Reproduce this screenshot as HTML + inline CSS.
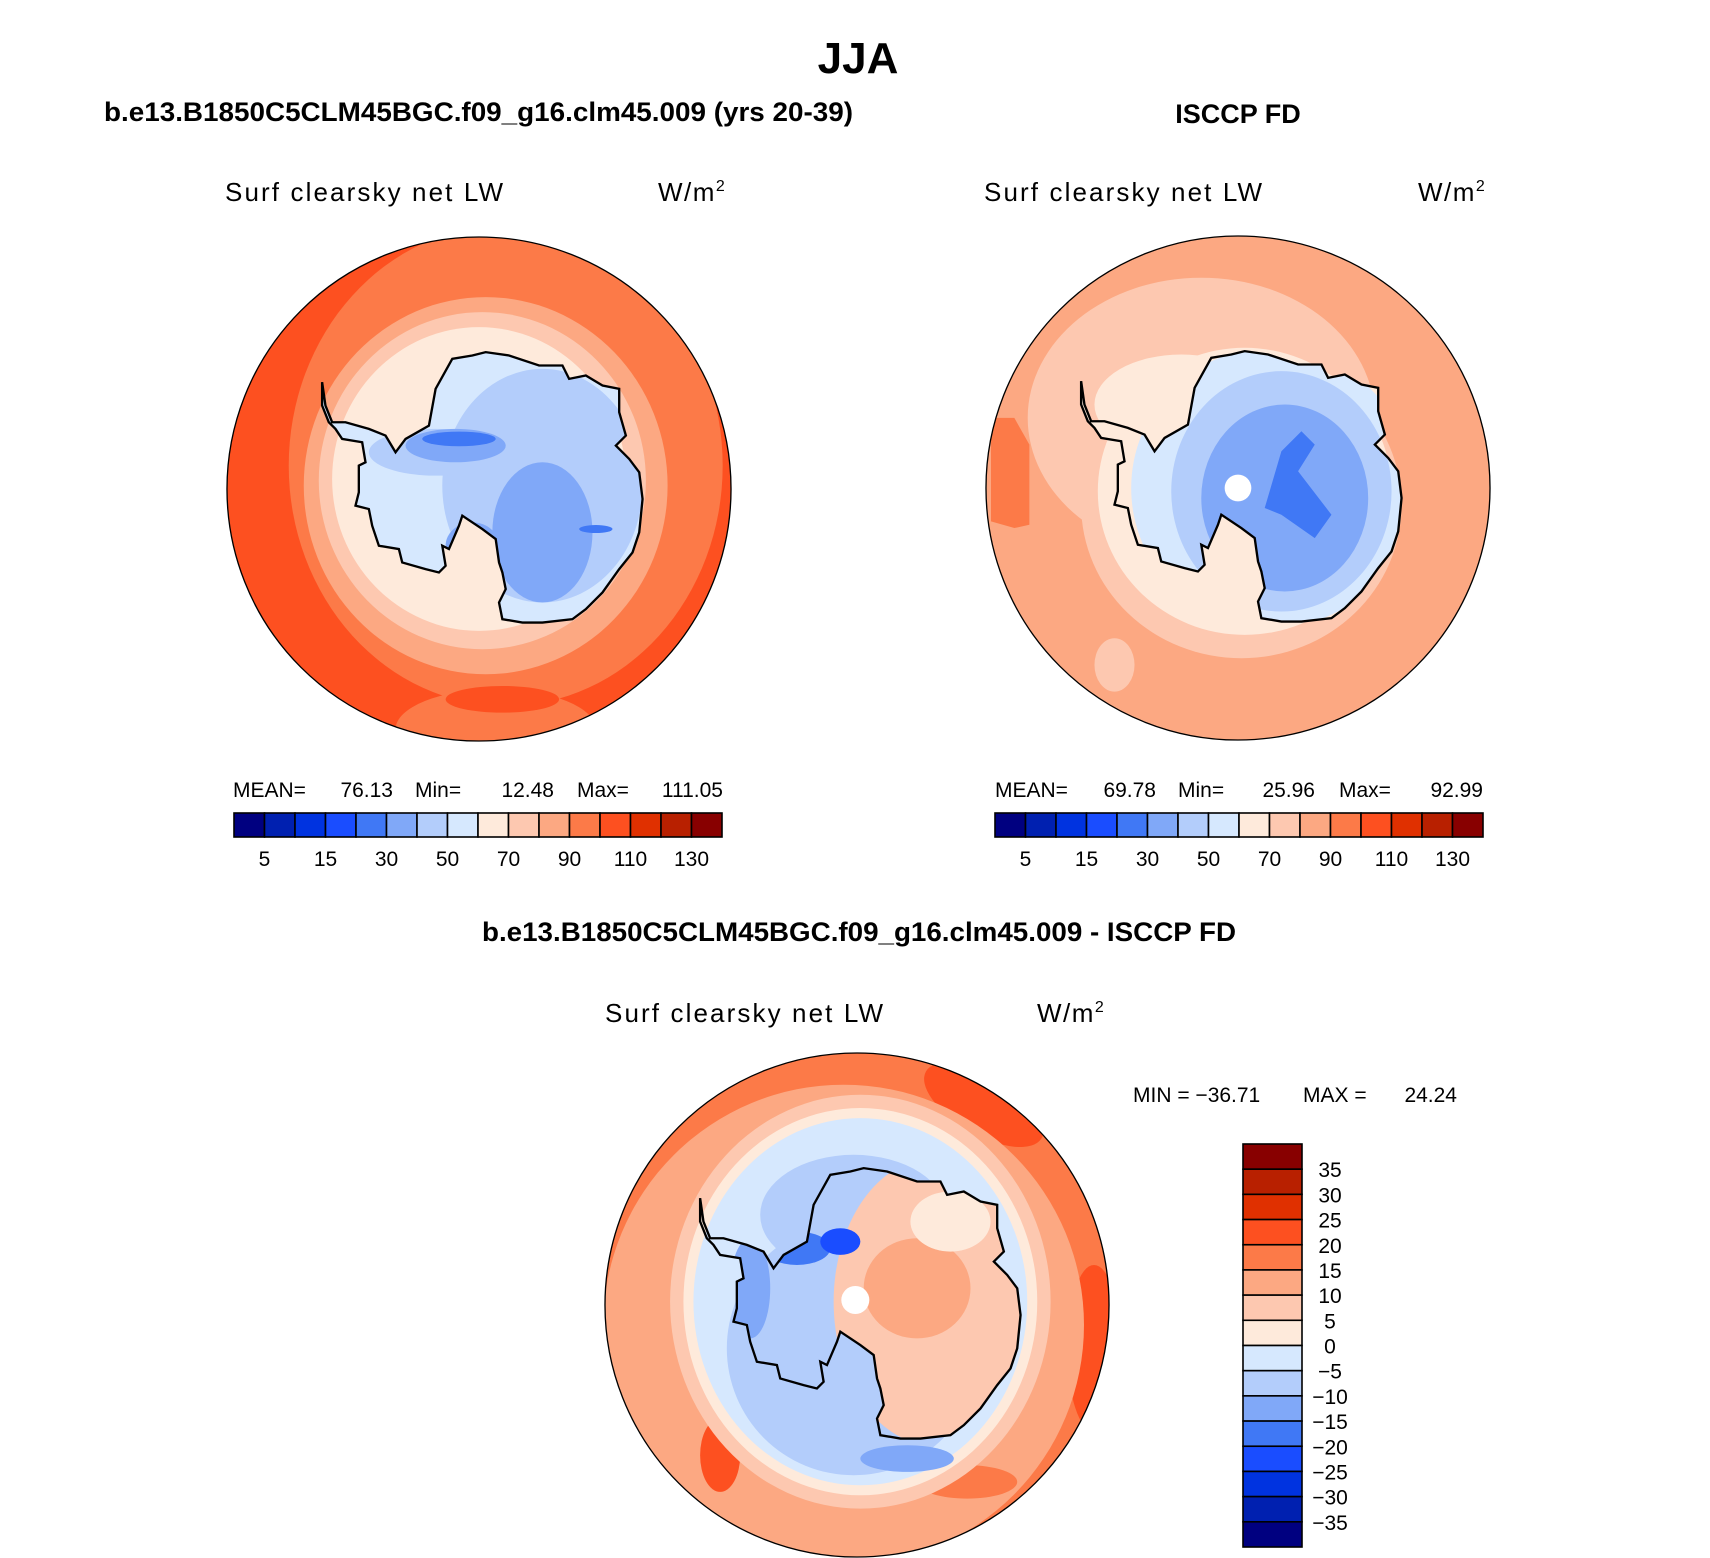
<!DOCTYPE html>
<html><head><meta charset="utf-8"><style>
html,body{margin:0;padding:0;background:#fff;}
svg{display:block;}
.t{font-family:"Liberation Sans",sans-serif;}
.b{font-family:"Liberation Sans",sans-serif;font-weight:bold;}
</style></head><body>
<svg id="fig" width="1710" height="1558" viewBox="0 0 1710 1558" xmlns="http://www.w3.org/2000/svg">
<defs>
<clipPath id="cc"><circle cx="770" cy="770" r="755"/></clipPath>
<clipPath id="ant"><path id="antp" d="M300,450 L310,520 L330,570 L370,570 L440,590 L490,610 L520,660 L550,620 L620,580 L640,470 L690,380 L750,370 L790,360 L860,370 L950,400 L1020,400 L1040,440 L1090,430 L1140,460 L1190,470 L1190,540 L1210,610 L1180,640 L1220,680 L1250,720 L1260,800 L1250,900 L1230,960 L1190,1010 L1140,1080 L1090,1130 L1050,1160 L960,1170 L900,1170 L840,1160 L830,1110 L850,1070 L840,1020 L830,990 L820,920 L780,890 L720,850 L710,880 L680,950 L660,940 L670,1000 L650,1020 L610,1010 L540,990 L530,950 L470,940 L450,880 L440,830 L400,820 L410,780 L410,700 L430,690 L420,630 L360,620 L340,590 L320,570 L300,520 Z"/></clipPath>
</defs>

<text class="b" x="858" y="73" font-size="44" text-anchor="middle">JJA</text>
<text class="b" x="104" y="121" font-size="27" textLength="749" lengthAdjust="spacingAndGlyphs">b.e13.B1850C5CLM45BGC.f09_g16.clm45.009 (yrs 20-39)</text>
<text class="b" x="1238" y="123" font-size="27" text-anchor="middle">ISCCP FD</text>
<text class="b" x="482" y="941" font-size="27" textLength="754" lengthAdjust="spacingAndGlyphs">b.e13.B1850C5CLM45BGC.f09_g16.clm45.009 - ISCCP FD</text>

<text class="t" x="225" y="201" font-size="26" textLength="278" lengthAdjust="spacing">Surf clearsky net LW</text>
<text class="t" x="658" y="201" font-size="26" letter-spacing="1.5">W/m<tspan font-size="16" dy="-10">2</tspan></text>
<text class="t" x="984" y="201" font-size="26" textLength="278" lengthAdjust="spacing">Surf clearsky net LW</text>
<text class="t" x="1418" y="201" font-size="26" letter-spacing="1.5">W/m<tspan font-size="16" dy="-10">2</tspan></text>
<text class="t" x="605" y="1022" font-size="26" textLength="278" lengthAdjust="spacing">Surf clearsky net LW</text>
<text class="t" x="1037" y="1022" font-size="26" letter-spacing="1.5">W/m<tspan font-size="16" dy="-10">2</tspan></text>

<!-- Left map -->
<g transform="translate(479,489) scale(0.3338) translate(-770,-770)">
 <g clip-path="url(#cc)">
  <rect x="0" y="0" width="1540" height="1540" fill="#fd5020"/>
  <ellipse cx="1090" cy="190" rx="60" ry="20" transform="rotate(35 1090 190)" fill="#e03000"/>
  <ellipse cx="850" cy="700" rx="650" ry="720" fill="#fc7a48"/>
  <ellipse cx="820" cy="1490" rx="300" ry="120" fill="#fc7a48"/>
  <ellipse cx="840" cy="1400" rx="170" ry="40" fill="#fd5020"/>
  <ellipse cx="790" cy="760" rx="545" ry="565" fill="#fca882"/>
  <ellipse cx="780" cy="745" rx="490" ry="505" fill="#fdc8b0"/>
  <ellipse cx="770" cy="740" rx="440" ry="455" fill="#feeadb"/>
  <use href="#antp" fill="#d6e8fe"/>
  <g clip-path="url(#ant)">
   <ellipse cx="960" cy="760" rx="300" ry="350" fill="#b3cdfb"/>
   <ellipse cx="640" cy="660" rx="200" ry="70" fill="#b3cdfb"/>
   <ellipse cx="960" cy="900" rx="150" ry="210" fill="#80a8f8"/>
   <ellipse cx="700" cy="640" rx="150" ry="50" fill="#80a8f8"/>
   <ellipse cx="750" cy="940" rx="80" ry="70" fill="#80a8f8"/>
   <ellipse cx="710" cy="620" rx="110" ry="22" fill="#4078f5"/>
   <ellipse cx="1120" cy="890" rx="50" ry="12" fill="#4078f5"/>
  </g>
  <use href="#antp" fill="none" stroke="#000" stroke-width="7"/>
 </g>
 <circle cx="770" cy="770" r="755" fill="none" stroke="#000" stroke-width="4"/>
</g>

<!-- Right map -->
<g transform="translate(1238,488) scale(0.3338) translate(-770,-770)">
 <g clip-path="url(#cc)">
  <rect x="0" y="0" width="1540" height="1540" fill="#fca882"/>
  <path d="M30,560 L100,560 L145,640 L145,880 L100,890 L30,870 Z" fill="#fc7a48"/>
  <ellipse cx="660" cy="560" rx="520" ry="420" fill="#fdc8b0"/>
  <ellipse cx="780" cy="820" rx="480" ry="460" fill="#fdc8b0"/>
  <ellipse cx="400" cy="1300" rx="60" ry="80" fill="#fdc8b0"/>
  <ellipse cx="600" cy="520" rx="260" ry="150" fill="#feeadb"/>
  <ellipse cx="790" cy="780" rx="440" ry="430" fill="#feeadb"/>
  <use href="#antp" fill="#feeadb"/>
  <g clip-path="url(#ant)">
   <ellipse cx="870" cy="770" rx="420" ry="420" fill="#d6e8fe"/>
   <ellipse cx="900" cy="780" rx="330" ry="360" fill="#b3cdfb"/>
   <ellipse cx="910" cy="800" rx="250" ry="280" fill="#80a8f8"/>
   <path d="M850,830 L900,660 L960,600 L1000,640 L950,720 L1050,850 L1000,920 L900,850 Z" fill="#4078f5"/>
  </g>
  <use href="#antp" fill="none" stroke="#000" stroke-width="7"/>
  <circle cx="770" cy="770" r="40" fill="#fff"/>
 </g>
 <circle cx="770" cy="770" r="755" fill="none" stroke="#000" stroke-width="4"/>
</g>

<!-- Bottom map -->
<g transform="translate(857,1305) scale(0.3338) translate(-770,-770)">
 <g clip-path="url(#cc)">
  <rect x="0" y="0" width="1540" height="1540" fill="#fc7a48"/>
  <ellipse cx="1150" cy="170" rx="200" ry="90" transform="rotate(30 1150 170)" fill="#fd5020"/>
  <ellipse cx="1480" cy="900" rx="80" ry="250" fill="#fd5020"/>
  <ellipse cx="730" cy="830" rx="720" ry="720" fill="#fca882"/>
  <ellipse cx="360" cy="1220" rx="60" ry="110" fill="#fd5020"/>
  <ellipse cx="1100" cy="1300" rx="150" ry="50" fill="#fc7a48"/>
  <ellipse cx="780" cy="760" rx="570" ry="620" fill="#fdc8b0"/>
  <ellipse cx="780" cy="760" rx="530" ry="580" fill="#feeadb"/>
  <ellipse cx="780" cy="760" rx="500" ry="550" fill="#d6e8fe"/>
  <ellipse cx="760" cy="900" rx="380" ry="380" fill="#b3cdfb"/>
  <ellipse cx="760" cy="500" rx="280" ry="180" fill="#b3cdfb"/>
  <ellipse cx="920" cy="1230" rx="140" ry="40" fill="#80a8f8"/>
  <g clip-path="url(#ant)">
   <ellipse cx="1000" cy="760" rx="300" ry="430" fill="#fdc8b0"/>
   <ellipse cx="950" cy="720" rx="160" ry="150" fill="#fca882"/>
   <ellipse cx="1050" cy="520" rx="120" ry="90" fill="#feeadb"/>
   <ellipse cx="520" cy="760" rx="140" ry="200" fill="#b3cdfb"/>
   <ellipse cx="450" cy="720" rx="60" ry="150" fill="#80a8f8"/>
   <ellipse cx="590" cy="600" rx="100" ry="50" fill="#4078f5"/>
   <ellipse cx="720" cy="580" rx="60" ry="40" fill="#1a4dff"/>
   <ellipse cx="750" cy="960" rx="70" ry="45" fill="#0033e0"/>
  </g>
  <use href="#antp" fill="none" stroke="#000" stroke-width="7"/>
  <circle cx="765" cy="755" r="42" fill="#fff"/>
 </g>
 <circle cx="770" cy="770" r="755" fill="none" stroke="#000" stroke-width="4"/>
</g>

<g class="t" font-size="21">
 <text x="233" y="797">MEAN=</text><text x="393" y="797" text-anchor="end">76.13</text>
 <text x="415" y="797">Min=</text><text x="554" y="797" text-anchor="end">12.48</text>
 <text x="577" y="797">Max=</text><text x="723" y="797" text-anchor="end">111.05</text>
</g>
<g class="t" font-size="21">
 <text x="995" y="797">MEAN=</text><text x="1156" y="797" text-anchor="end">69.78</text>
 <text x="1178" y="797">Min=</text><text x="1315" y="797" text-anchor="end">25.96</text>
 <text x="1339" y="797">Max=</text><text x="1483" y="797" text-anchor="end">92.99</text>
</g>
<g class="t" font-size="21">
 <text x="1133" y="1102">MIN  =  −36.71</text>
 <text x="1303" y="1102">MAX  =</text>
 <text x="1457" y="1102" text-anchor="end">24.24</text>
</g>

<g id="cbars"></g>
</svg>
<script>
const colors = ["#000080","#0020b0","#0033e0","#1a4dff","#4078f5","#80a8f8","#b3cdfb","#d6e8fe","#feeadb","#fdc8b0","#fca882","#fc7a48","#fd5020","#e03000","#b82000","#880000"];
const absLevels = [5,10,15,20,30,40,50,60,70,80,90,100,110,120,130];
const absTickLabels = ["5","","15","","30","","50","","70","","90","","110","","130"];
const diffLevels = [-35,-30,-25,-20,-15,-10,-5,0,5,10,15,20,25,30,35];
const NS = "http://www.w3.org/2000/svg";
const root = document.getElementById("cbars");
function mk(tag, attrs){ const e=document.createElementNS(NS,tag); for(const k in attrs) e.setAttribute(k,attrs[k]); return e; }
function hbar(x0, x1, y0, h, name){
  const g = mk("g",{});
  
  
  const w = (x1-x0)/colors.length;
  colors.forEach((c,i)=>{
    const r = mk("rect",{x:x0+i*w,y:y0,width:w,height:h,fill:c,stroke:"#000","stroke-width":1.6});
    
    
    g.appendChild(r);
  });
  absLevels.forEach((v,i)=>{
    if(!absTickLabels[i]) return;
    const t = mk("text",{x:x0+(i+1)*w,y:y0+h+29,"font-size":21,"text-anchor":"middle","class":"t"});
    t.textContent = absTickLabels[i];
    
    
    g.appendChild(t);
  });
  root.appendChild(g);
}
hbar(234, 722, 813, 24, "left-colorbar");
hbar(995, 1483, 813, 24, "right-colorbar");
(function(){
  const x0=1243, x1=1302, y0=1144, y1=1547;
  const g = mk("g",{});
  
  
  const h=(y1-y0)/colors.length;
  colors.slice().reverse().forEach((c,i)=>{
    const r = mk("rect",{x:x0,y:y0+i*h,width:x1-x0,height:h,fill:c,stroke:"#000","stroke-width":1.6});
    
    
    g.appendChild(r);
  });
  diffLevels.slice().reverse().forEach((v,i)=>{
    const t = mk("text",{x:1330,y:y0+(i+1)*h+8,"font-size":21,"text-anchor":"middle","class":"t"});
    t.textContent = v<0 ? "−"+Math.abs(v) : String(v);
    
    
    g.appendChild(t);
  });
  root.appendChild(g);
})();
</script>
</body></html>
